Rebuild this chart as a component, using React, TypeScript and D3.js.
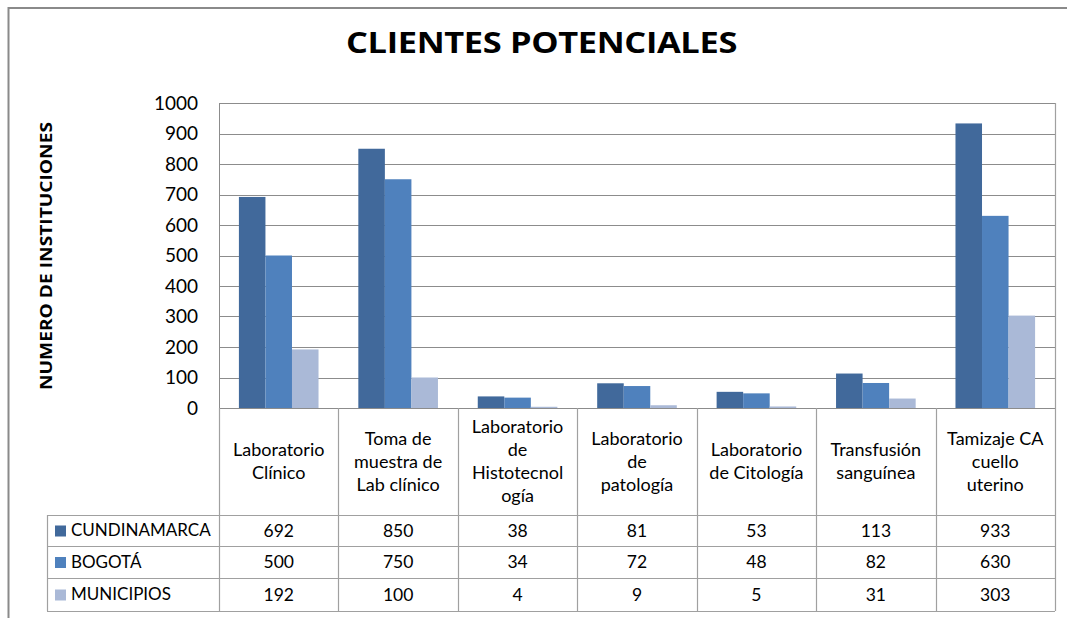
import React from "react";
import * as d3 from "d3";

const categories = [
  "Laboratorio Clínico",
  "Toma de muestra de Lab clínico",
  "Laboratorio de Histotecnología",
  "Laboratorio de patología",
  "Laboratorio de Citología",
  "Transfusión sanguínea",
  "Tamizaje CA cuello uterino",
];
const categoryLines = [
  ["Laboratorio", "Clínico"],
  ["Toma de", "muestra de", "Lab clínico"],
  ["Laboratorio", "de", "Histotecnol", "ogía"],
  ["Laboratorio", "de", "patología"],
  ["Laboratorio", "de Citología"],
  ["Transfusión", "sanguínea"],
  ["Tamizaje CA", "cuello", "uterino"],
];
const seriesNames = ["CUNDINAMARCA", "BOGOTÁ", "MUNICIPIOS"];
const cundinamarca = [692, 850, 38, 81, 53, 113, 933];
const bogota = [500, 750, 34, 72, 48, 82, 630];
const municipios = [192, 100, 4, 9, 5, 31, 303];
const seriesValues = [cundinamarca, bogota, municipios];
const seriesColors = ["#41699B", "#4F81BD", "#AAB9D7"];
const yTicks = [0, 100, 200, 300, 400, 500, 600, 700, 800, 900, 1000];

const FONT = "Lato, 'Open Sans', sans-serif";
const BOLD_FONT = "'Open Sans', Lato, sans-serif";

export default function App() {
  const W = 1067;
  const H = 618;
  const plotL = 219;
  const plotR = 1055;
  const plotT = 103;
  const plotB = 408;
  const tableL = 47;
  const rowLines = [515, 546, 578, 611];

  const x = d3.scaleBand<string>().domain(categories).range([plotL, plotR]).padding(0);
  const y = d3.scaleLinear().domain([0, 1000]).range([plotB, plotT]);
  const bw = x.bandwidth();
  const barW = (bw * 2) / 9;
  const groupOff = bw / 6;

  const gridColor = "#8C8C8C";
  const tableColor = "#A0A0A0";

  return (
    <svg
      width={W}
      height={H}
      style={{ position: "absolute", left: 0, top: 0, background: "#fff" }}
      fontFamily={FONT}
    >
      <rect x={0} y={0} width={W} height={H} fill="#fff" />
      {/* outer frame */}
      <rect x={8.5} y={8} width={1100} height={700} fill="none" stroke="#8A8A8A" strokeWidth={2} />

      {/* title */}
      <text
        x={346}
        y={53}
        fontFamily={BOLD_FONT}
        fontSize={29}
        fontWeight="bold"
        fill="#000"
        letterSpacing={-0.3}
        textLength={391}
        lengthAdjust="spacingAndGlyphs"
      >
        CLIENTES POTENCIALES
      </text>

      {/* y axis title */}
      <text
        transform={`translate(52, 256) rotate(-90)`}
        textAnchor="middle"
        fontFamily={BOLD_FONT}
        fontSize={15.5}
        fontWeight="bold"
        fill="#000"
        textLength={268}
        lengthAdjust="spacingAndGlyphs"
      >
        NUMERO DE INSTITUCIONES
      </text>

      {/* gridlines */}
      {yTicks.map((t) => (
        <line
          key={t}
          x1={plotL}
          x2={plotR}
          y1={Math.round(y(t)) + 0.5}
          y2={Math.round(y(t)) + 0.5}
          stroke={gridColor}
          strokeWidth={1}
        />
      ))}
      <line x1={plotL + 0.5} x2={plotL + 0.5} y1={plotT} y2={plotB} stroke={gridColor} />

      {/* tick labels */}
      {yTicks.map((t) => (
        <text
          key={"l" + t}
          x={198}
          y={y(t)}
          dy="0.35em"
          textAnchor="end"
          fontSize={19}
          fill="#000"
        >
          {t}
        </text>
      ))}

      {/* bars */}
      {seriesValues.map((vals, si) =>
        vals.map((v, ci) => (
          <rect
            key={si + "-" + ci}
            x={(x(categories[ci]) as number) + groupOff + si * barW}
            y={y(v)}
            width={barW}
            height={plotB - y(v)}
            fill={seriesColors[si]}
          />
        ))
      )}

      {/* table lines */}
      {rowLines.map((ry) => (
        <line key={ry} x1={tableL} x2={plotR} y1={ry + 0.5} y2={ry + 0.5} stroke={tableColor} strokeWidth={1.2} />
      ))}
      <line x1={tableL + 0.5} x2={tableL + 0.5} y1={rowLines[0]} y2={rowLines[3]} stroke={tableColor} strokeWidth={1.2} />
      {categories.map((c, i) => (
        <line
          key={"v" + i}
          x1={Math.round(x(c) as number) + 0.5}
          x2={Math.round(x(c) as number) + 0.5}
          y1={plotB}
          y2={rowLines[3]}
          stroke={tableColor}
          strokeWidth={1.2}
        />
      ))}
      <line x1={plotR + 0.5} x2={plotR + 0.5} y1={plotT} y2={rowLines[3]} stroke={tableColor} strokeWidth={1.2} />

      {/* category labels */}
      {categoryLines.map((lines, ci) => {
        const cx = (x(categories[ci]) as number) + bw / 2;
        const lh = 23;
        const mid = (plotB + rowLines[0]) / 2;
        const startY = mid - ((lines.length - 1) * lh) / 2;
        return (
          <text key={"c" + ci} textAnchor="middle" fontSize={18} fill="#000">
            {lines.map((ln, li) => (
              <tspan key={li} x={cx} y={startY + li * lh} dy="0.35em">
                {ln}
              </tspan>
            ))}
          </text>
        );
      })}

      {/* legend + values */}
      {seriesNames.map((name, si) => {
        const top = rowLines[si];
        const bot = rowLines[si + 1];
        const my = (top + bot) / 2;
        return (
          <g key={"s" + si}>
            <rect x={55} y={my - 5} width={11} height={11} fill={seriesColors[si]} />
            <text x={71} y={my} dy="0.35em" fontSize={17} fill="#000">
              {name}
            </text>
            {seriesValues[si].map((v, ci) => (
              <text
                key={ci}
                x={(x(categories[ci]) as number) + bw / 2}
                y={my}
                dy="0.35em"
                textAnchor="middle"
                fontSize={17.5}
                fill="#000"
              >
                {v}
              </text>
            ))}
          </g>
        );
      })}
    </svg>
  );
}
